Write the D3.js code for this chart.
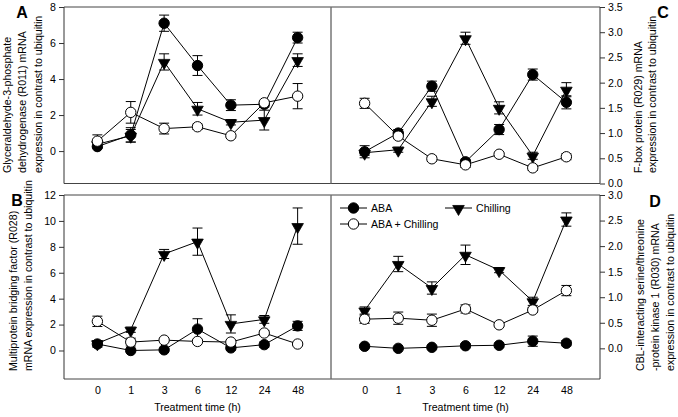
<!DOCTYPE html>
<html><head><meta charset="utf-8">
<script src="https://cdn.jsdelivr.net/npm/d3@7"></script>
<style>
body{margin:0;background:#fff}
svg{display:block}
text{font-family:"Liberation Sans",Arial,Helvetica,sans-serif;fill:#000}
</style>
</head><body>
<svg id="chart" width="678" height="417"></svg>
<script>
// ---------- data ----------
const times = ["0","1","3","6","12","24","48"];
const seriesNames = ["ABA","ABA + Chilling","Chilling"];

// Panel A: GAPDH (R011)
const A_aba        = [0.25,0.90,7.10,4.75,2.55,2.60,6.30];
const A_abaErr     = [0.10,0.40,0.45,0.55,0.30,0.15,0.30];
const A_abaChill   = [0.55,2.15,1.25,1.35,0.85,2.68,3.05];
const A_abaChillErr= [0.35,0.60,0.30,0.15,0.10,0.10,0.70];
const A_chill      = [0.38,0.85,4.95,2.35,1.60,1.72,5.05];
const A_chillErr   = [0.15,0.35,0.45,0.35,0.15,0.55,0.35];

// Panel B: Multiprotein bridging factor (R028)
const B_aba        = [0.50,0.00,0.05,1.65,0.20,0.45,1.90];
const B_abaErr     = [0.25,0.10,0.10,0.80,0.15,0.20,0.35];
const B_abaChill   = [2.25,0.65,0.80,0.70,0.65,1.35,0.50];
const B_abaChillErr= [0.40,0.30,0.10,0.10,0.10,0.20,0.10];
const B_chill      = [0.55,1.60,7.45,8.40,2.05,2.40,9.60];
const B_chillErr   = [0.20,0.20,0.35,1.05,0.70,0.30,1.40];

// Panel C: F-box protein (R029)
const C_aba        = [0.63,1.00,1.93,0.43,1.07,2.16,1.61];
const C_abaErr     = [0.12,0.07,0.10,0.05,0.10,0.11,0.13];
const C_abaChill   = [1.59,0.94,0.49,0.37,0.58,0.31,0.53];
const C_abaChillErr= [0.10,0.05,0.05,0.05,0.03,0.05,0.06];
const C_chill      = [0.61,0.67,1.63,2.88,1.50,0.55,1.86];
const C_chillErr   = [0.05,0.05,0.10,0.12,0.12,0.07,0.14];

// Panel D: CIPK1 (R030)
const D_aba        = [0.04,0.00,0.02,0.05,0.06,0.14,0.10];
const D_abaErr     = [0.03,0.02,0.03,0.04,0.04,0.10,0.05];
const D_abaChill   = [0.57,0.59,0.55,0.77,0.46,0.75,1.13];
const D_abaChillErr= [0.08,0.12,0.12,0.08,0.03,0.05,0.10];
const D_chill      = [0.74,1.65,1.18,1.83,1.53,0.92,2.52];
const D_chillErr   = [0.07,0.15,0.12,0.19,0.05,0.08,0.13];

// tick values
const A_ticks = [0,2,4,6,8];
const B_ticks = [0,2,4,6,8,10,12];
const C_ticks = [0,0.5,1,1.5,2,2.5,3,3.5];
const D_ticks = [0,0.5,1,1.5,2,2.5,3];

// titles
const A_title = ["Glyceraldehyde-3-phosphate","dehydrogenase (R011) mRNA","expression in contrast to ubiquitin"];
const B_title = ["Multiprotein bridging factor (R028)","mRNA expression in contrast to ubiquitin"];
const C_title = ["F-box protein (R029) mRNA","expression in contrast to ubiquitin"];
const D_title = ["CBL-interacting serine/threonine","-protein kinase 1 (R030) mRNA","expression in contrast to ubiquitin"];
const xTitle = "Treatment time (h)";

// ---------- layout ----------
const svg = d3.select("#chart");
const FONT = 10.6;
const L = 64, M = 331, R = 600;
const rows = [{top:7,bottom:183.5},{top:195,bottom:379}];

const panels = [
  {letter:"A", x0:L, x1:M, row:0, domain:[-1.8,8], ticks:A_ticks, fmt:d3.format("d"), side:"left",
   series:{aba:[A_aba,A_abaErr],abaChill:[A_abaChill,A_abaChillErr],chill:[A_chill,A_chillErr]},
   title:A_title, titleX:[7,22,37.5], titleY:173, letterPos:[22,18]},
  {letter:"B", x0:L, x1:M, row:1, domain:[-2.2,12], ticks:B_ticks, fmt:d3.format("d"), side:"left",
   series:{aba:[B_aba,B_abaErr],abaChill:[B_abaChill,B_abaChillErr],chill:[B_chill,B_chillErr]},
   title:B_title, titleX:[13,28], titleY:371, letterPos:[17,206], xaxis:true},
  {letter:"C", x0:M, x1:R, row:0, domain:[0,3.5], ticks:C_ticks, fmt:d3.format(".1f"), side:"right",
   series:{aba:[C_aba,C_abaErr],abaChill:[C_abaChill,C_abaChillErr],chill:[C_chill,C_chillErr]},
   title:C_title, titleX:[638,652], titleY:173, letterPos:[663,18]},
  {letter:"D", x0:M, x1:R, row:1, domain:[-0.6,3.0], ticks:D_ticks, fmt:d3.format(".1f"), side:"right",
   series:{aba:[D_aba,D_abaErr],abaChill:[D_abaChill,D_abaChillErr],chill:[D_chill,D_chillErr]},
   title:D_title, titleX:[640,655,670], titleY:371, letterPos:[655,207], xaxis:true, legend:true}
];

const triPath = d3.symbol().type(d3.symbolTriangle).size(58)();

function drawSeries(g, x, y, vals, errs, kind){
  const pts = times.map((t,i)=>({t, v:vals[i], e:errs[i]}));
  g.append("path").datum(pts)
    .attr("fill","none").attr("stroke","#000").attr("stroke-width",1)
    .attr("d", d3.line().x(d=>x(d.t)).y(d=>y(d.v)));
  const eb = g.append("g").attr("stroke","#000").attr("stroke-width",1);
  pts.forEach(d=>{
    const cx = x(d.t);
    eb.append("line").attr("x1",cx).attr("x2",cx).attr("y1",y(d.v-d.e)).attr("y2",y(d.v+d.e));
    [d.v-d.e, d.v+d.e].forEach(v=>{
      eb.append("line").attr("x1",cx-5).attr("x2",cx+5).attr("y1",y(v)).attr("y2",y(v));
    });
  });
  drawMarkers(g, pts.map(d=>[x(d.t), y(d.v)]), kind);
}
function drawMarkers(g, coords, kind){
  coords.forEach(([cx,cy])=>{
    if(kind==="chill"){
      g.append("path").attr("d",triPath)
        .attr("transform",`translate(${cx},${cy+0.8}) rotate(180)`)
        .attr("fill","#000").attr("stroke","#000").attr("stroke-width",0.8);
    } else {
      g.append("circle").attr("cx",cx).attr("cy",cy).attr("r",5.2)
        .attr("fill", kind==="aba" ? "#000" : "#fff")
        .attr("stroke","#000").attr("stroke-width",1);
    }
  });
}

panels.forEach(p=>{
  const r = rows[p.row];
  const g = svg.append("g");
  const x = d3.scalePoint().domain(times).range([p.x0,p.x1]).padding(1);
  const y = d3.scaleLinear().domain(p.domain).range([r.bottom,r.top]);

  // frame
  g.append("line").attr("x1",p.x0).attr("x2",p.x1).attr("y1",r.top).attr("y2",r.top).attr("stroke","#444");
  g.append("line").attr("x1",p.x0).attr("x2",p.x1).attr("y1",r.bottom).attr("y2",r.bottom).attr("stroke","#444");
  const innerX = p.side==="left" ? p.x1 : p.x0;
  g.append("line").attr("x1",innerX).attr("x2",innerX).attr("y1",r.top).attr("y2",r.bottom).attr("stroke","#777");

  // y axis
  const axis = p.side==="left" ? d3.axisLeft(y) : d3.axisRight(y);
  axis.tickValues(p.ticks).tickFormat(p.fmt).tickSize(5).tickPadding(3);
  const ag = g.append("g").attr("transform",`translate(${p.side==="left"?p.x0:p.x1},0)`).call(axis);
  ag.select(".domain").attr("stroke","#333").attr("d", `M0,${r.top}V${r.bottom}`);
  ag.selectAll(".tick line").attr("stroke","#333");
  ag.selectAll("text").attr("font-size",FONT).style("font-family",'"Liberation Sans",Arial,sans-serif').attr("fill","#000");

  // x tick labels (no tick marks)
  if(p.xaxis){
    const xa = d3.axisBottom(x).tickSize(0).tickPadding(7);
    const xg = g.append("g").attr("transform",`translate(0,${r.bottom})`).call(xa);
    xg.select(".domain").remove();
    xg.selectAll("text").attr("font-size",FONT).style("font-family",'"Liberation Sans",Arial,sans-serif').attr("fill","#000");
    g.append("text").attr("x",(p.x0+p.x1)/2).attr("y",411).attr("text-anchor","middle")
      .attr("font-size",FONT).text(xTitle);
  }

  // y titles (rotated, bottom-aligned)
  p.title.forEach((t,i)=>{
    g.append("text").attr("transform",`translate(${p.titleX[i]+4},${p.titleY}) rotate(-90)`)
      .attr("text-anchor","start").attr("font-size",FONT).text(t);
  });
  // panel letter
  g.append("text").attr("x",p.letterPos[0]).attr("y",p.letterPos[1]).attr("text-anchor","middle")
    .attr("font-size",16).attr("font-weight","bold").text(p.letter);

  // series: chilling, ABA, ABA+chilling
  const sg = g.append("g");
  drawSeries(sg, x, y, p.series.chill[0], p.series.chill[1], "chill");
  drawSeries(sg, x, y, p.series.aba[0], p.series.aba[1], "aba");
  drawSeries(sg, x, y, p.series.abaChill[0], p.series.abaChill[1], "abaChill");

  if(p.legend){
    const lg = g.append("g");
    const items = [
      {name:seriesNames[0], kind:"aba", lx:340, ly:208},
      {name:seriesNames[2], kind:"chill", lx:445, ly:208},
      {name:seriesNames[1], kind:"abaChill", lx:340, ly:224}
    ];
    items.forEach(it=>{
      lg.append("line").attr("x1",it.lx).attr("x2",it.lx+27).attr("y1",it.ly).attr("y2",it.ly).attr("stroke","#000");
      drawMarkers(lg, [[it.lx+13.5, it.ly]], it.kind);
      lg.append("text").attr("x",it.lx+31).attr("y",it.ly+4).attr("font-size",FONT).text(it.name);
    });
  }
});
</script>
</body></html>
